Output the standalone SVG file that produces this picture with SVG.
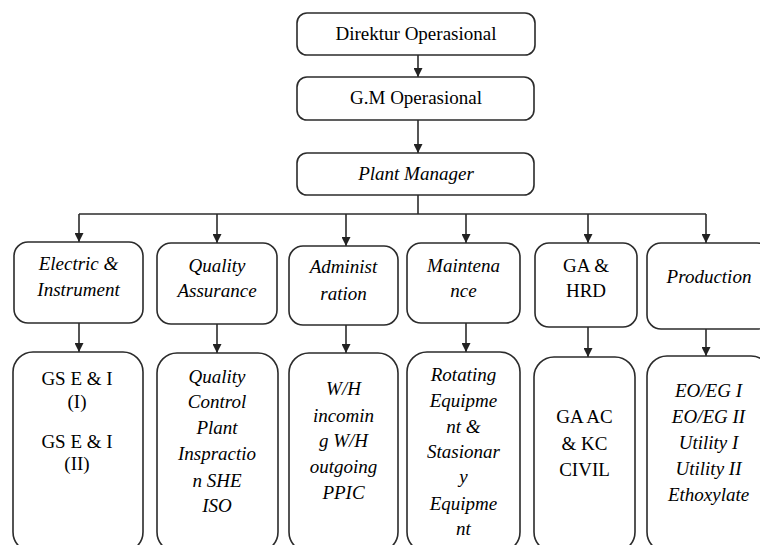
<svg xmlns="http://www.w3.org/2000/svg" width="760" height="545" viewBox="0 0 760 545">
<defs>
<marker id="ah" viewBox="0 0 10 10" refX="10" refY="5" markerWidth="9" markerHeight="9" markerUnits="userSpaceOnUse" orient="auto">
<path d="M0,0 L10,5 L0,10 Z" fill="#222"/>
</marker>
<style>
.box{fill:#fff;stroke:#2b2b2b;stroke-width:1.6}
text{font-family:'Liberation Serif','Times New Roman',Times,serif;font-size:19px;fill:#000;text-anchor:middle}
.i{font-style:italic}
.c{stroke:#2b2b2b;stroke-width:1.6;fill:none}
.a{marker-end:url(#ah)}
</style>
</defs>
<rect width="760" height="545" fill="#fff"/>
<g id="connectors">
<path class="c a" d="M418,55 V77"/>
<path class="c a" d="M418,120 V153"/>
<path class="c" d="M418,195 V214"/>
<path class="c" d="M79,214 H706"/>
<path class="c a" d="M79,214 V242"/>
<path class="c a" d="M217,214 V243"/>
<path class="c a" d="M346,214 V246"/>
<path class="c a" d="M466,214 V243"/>
<path class="c a" d="M588,214 V243"/>
<path class="c a" d="M706,214 V243"/>
<path class="c a" d="M79,323 V352"/>
<path class="c a" d="M217,324 V353"/>
<path class="c a" d="M346,325 V353"/>
<path class="c a" d="M466,323 V352"/>
<path class="c a" d="M588,327 V357"/>
<path class="c a" d="M706,329 V356"/>
</g>
<g id="direktur">
<rect class="box" x="297" y="13" width="238" height="42" rx="10"/>
<text x="416" y="40">Direktur Operasional</text>
</g>
<g id="gm">
<rect class="box" x="297" y="77" width="237" height="43" rx="10"/>
<text x="416" y="104">G.M Operasional</text>
</g>
<g id="plant-manager">
<rect class="box" x="297" y="153" width="237" height="42" rx="10"/>
<text class="i" x="416" y="180">Plant Manager</text>
</g>
<g id="electric">
<rect class="box" x="14" y="242" width="129" height="81" rx="14"/>
<text class="i" x="78.5" y="270">Electric &amp;</text>
<text class="i" x="78.5" y="296">Instrument</text>
</g>
<g id="qa">
<rect class="box" x="157" y="243" width="120" height="81" rx="14"/>
<text class="i" x="217" y="272">Quality</text>
<text class="i" x="217" y="297">Assurance</text>
</g>
<g id="admin">
<rect class="box" x="289" y="246" width="109" height="79" rx="14"/>
<text class="i" x="343.5" y="273">Administ</text>
<text class="i" x="343.5" y="300">ration</text>
</g>
<g id="maintenance">
<rect class="box" x="407" y="243" width="113" height="80" rx="14"/>
<text class="i" x="463.5" y="272">Maintena</text>
<text class="i" x="463.5" y="297">nce</text>
</g>
<g id="ga-hrd">
<rect class="box" x="535" y="243" width="102" height="84" rx="14"/>
<text x="586" y="272">GA &amp;</text>
<text x="586" y="297">HRD</text>
</g>
<g id="production">
<rect class="box" x="647" y="243" width="124" height="86" rx="14"/>
<text class="i" x="709" y="283">Production</text>
</g>
<g id="gs-ei">
<rect class="box" x="13" y="352" width="130" height="200" rx="20"/>
<text x="77" y="385">GS E &amp; I</text>
<text x="77" y="408">(I)</text>
<text x="77" y="448">GS E &amp; I</text>
<text x="77" y="470">(II)</text>
</g>
<g id="qc">
<rect class="box" x="157" y="353" width="121" height="199" rx="20"/>
<text class="i" x="217" y="383">Quality</text>
<text class="i" x="217" y="408">Control</text>
<text class="i" x="217" y="434">Plant</text>
<text class="i" x="217" y="460">Inspractio</text>
<text class="i" x="217" y="487">n SHE</text>
<text class="i" x="217" y="512">ISO</text>
</g>
<g id="wh">
<rect class="box" x="289" y="353" width="109" height="199" rx="20"/>
<text class="i" x="343.5" y="395">W/H</text>
<text class="i" x="343.5" y="422">incomin</text>
<text class="i" x="343.5" y="447">g W/H</text>
<text class="i" x="343.5" y="473">outgoing</text>
<text class="i" x="343.5" y="499">PPIC</text>
</g>
<g id="equipment">
<rect class="box" x="407" y="352" width="113" height="200" rx="20"/>
<text class="i" x="463.5" y="381">Rotating</text>
<text class="i" x="463.5" y="407">Equipme</text>
<text class="i" x="463.5" y="433">nt &amp;</text>
<text class="i" x="463.5" y="458">Stasionar</text>
<text class="i" x="463.5" y="483">y</text>
<text class="i" x="463.5" y="510">Equipme</text>
<text class="i" x="463.5" y="535">nt</text>
</g>
<g id="ga-ac">
<rect class="box" x="534" y="357" width="101" height="195" rx="20"/>
<text x="584.5" y="423">GA AC</text>
<text x="584.5" y="450">&amp; KC</text>
<text x="584.5" y="476">CIVIL</text>
</g>
<g id="eo-eg">
<rect class="box" x="647" y="356" width="124" height="196" rx="20"/>
<text class="i" x="708.5" y="397">EO/EG I</text>
<text class="i" x="708.5" y="423">EO/EG II</text>
<text class="i" x="708.5" y="449">Utility I</text>
<text class="i" x="708.5" y="475">Utility II</text>
<text class="i" x="708.5" y="501">Ethoxylate</text>
</g>
</svg>
